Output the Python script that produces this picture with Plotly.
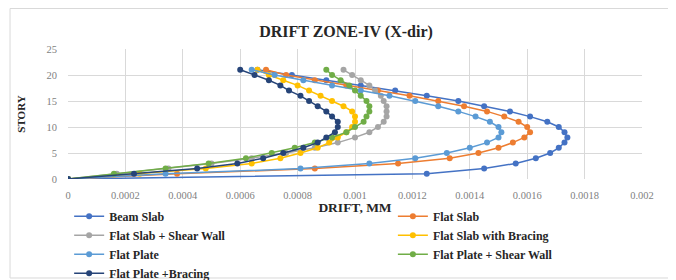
import plotly.graph_objects as go

stories = list(range(22))

beam_slab = [0, 0.00125, 0.00145, 0.00156, 0.00163, 0.00168, 0.00171, 0.00173, 0.00174, 0.00173,
             0.00171, 0.00167, 0.00161, 0.00154, 0.00145, 0.00136, 0.00125, 0.00114, 0.00102,
             0.00090, 0.00078, 0.00066]
flat_slab = [0, 0.00038, 0.00086, 0.00115, 0.00133, 0.00143, 0.00150, 0.00155, 0.00159, 0.00161,
             0.00160, 0.00157, 0.00152, 0.00146, 0.00138, 0.00129, 0.00119, 0.00108, 0.00097,
             0.00086, 0.00076, 0.00069]
flat_slab_sw = [0, 0.00017, 0.00035, 0.00050, 0.00064, 0.00076, 0.00086, 0.00094, 0.00100, 0.00105,
                0.00108, 0.00110, 0.00111, 0.00111, 0.00111, 0.00110, 0.00109, 0.00107, 0.00105,
                0.00102, 0.00099, 0.00096]
flat_slab_br = [0, 0.00025, 0.00048, 0.00064, 0.00074, 0.00081, 0.00087, 0.00091, 0.00094, 0.00097,
                0.00099, 0.00100, 0.00100, 0.00099, 0.00096, 0.00092, 0.00088, 0.00084, 0.00080,
                0.00075, 0.00070, 0.00066]
flat_plate = [0, 0.00034, 0.00081, 0.00105, 0.00121, 0.00132, 0.00140, 0.00146, 0.00150, 0.00151,
              0.00150, 0.00147, 0.00142, 0.00136, 0.00129, 0.00121, 0.00112, 0.00102, 0.00092,
              0.00082, 0.00072, 0.00064]
flat_plate_sw = [0, 0.00016, 0.00034, 0.00049, 0.00062, 0.00071, 0.00079, 0.00086, 0.00092, 0.00097,
                 0.00100, 0.00103, 0.00104, 0.00105, 0.00105, 0.00104, 0.00102, 0.00100, 0.00098,
                 0.00095, 0.00092, 0.00090]
flat_plate_br = [0, 0.00023, 0.00045, 0.00059, 0.00068, 0.00075, 0.00082, 0.00087, 0.00090, 0.00093,
                 0.00094, 0.00094, 0.00092, 0.00090, 0.00087, 0.00084, 0.00081, 0.00077, 0.00074,
                 0.00070, 0.00065, 0.00060]

series_names = ["Beam Slab", "Flat Slab", "Flat Slab + Shear Wall", "Flat Slab with Bracing",
                "Flat Plate", "Flat Plate + Shear Wall", "Flat Plate +Bracing"]
series_values = [beam_slab, flat_slab, flat_slab_sw, flat_slab_br, flat_plate, flat_plate_sw, flat_plate_br]
colors = ["#4472C4", "#ED7D31", "#A5A5A5", "#FFC000", "#5B9BD5", "#70AD47", "#264478"]
legend_column = ["legend", "legend2", "legend", "legend2", "legend", "legend2", "legend"]

x_ticks = [0, 0.0002, 0.0004, 0.0006, 0.0008, 0.001, 0.0012, 0.0014, 0.0016, 0.0018, 0.002]
x_tick_labels = ["0", "0.0002", "0.0004", "0.0006", "0.0008", "0.001", "0.0012", "0.0014",
                 "0.0016", "0.0018", "0.002"]
y_ticks = [0, 5, 10, 15, 20, 25]

serif = "Liberation Serif, Times New Roman, serif"

fig = go.Figure()
for name, vals, col, lg in zip(series_names, series_values, colors, legend_column):
    fig.add_trace(go.Scatter(
        x=vals, y=stories, name=name, mode="lines+markers", legend=lg,
        line=dict(color=col, width=1.5),
        marker=dict(color=col, size=6, symbol="circle"),
    ))

legend_font = dict(family=serif, size=12, color="#262626", weight="bold")

fig.update_layout(
    width=676, height=280,
    margin=dict(l=60, r=42, t=41, b=109, autoexpand=False),
    paper_bgcolor="white", plot_bgcolor="white",
    title=dict(text="<b>DRIFT ZONE-IV (X-dir)</b>", x=0.5, xanchor="center", y=0.918, yanchor="middle",
               font=dict(family=serif, size=16, color="#262626")),
    xaxis=dict(range=[0, 0.002], tickvals=x_ticks, ticktext=x_tick_labels,
               showgrid=True, gridcolor="#D9D9D9", gridwidth=1, zeroline=False,
               showline=False, ticks="", ticklabelstandoff=8,
               tickfont=dict(family=serif, size=10.5, color="#7F7F7F"),
               title=dict(text="<b>DRIFT, MM</b>", standoff=3,
                          font=dict(family=serif, size=13.5, color="#262626"))),
    yaxis=dict(range=[0, 25], tickvals=y_ticks,
               showgrid=True, gridcolor="#D9D9D9", gridwidth=1, zeroline=False,
               showline=False, ticks="", ticklabelstandoff=10,
               tickfont=dict(family=serif, size=10.5, color="#7F7F7F"),
               title=dict(text="<b>STORY</b>", standoff=18,
                          font=dict(family=serif, size=11, color="#262626"))),
    legend=dict(orientation="v", x=0.002, xanchor="left", y=-0.175, yanchor="top",
                tracegroupgap=0, font=legend_font, bgcolor="rgba(0,0,0,0)"),
    legend2=dict(orientation="v", x=0.566, xanchor="left", y=-0.175, yanchor="top",
                 tracegroupgap=0, font=legend_font, bgcolor="rgba(0,0,0,0)"),
    showlegend=True,
)

fig.add_shape(type="rect", xref="paper", yref="paper",
              x0=-0.101, x1=1.0488, y0=-0.7615, y1=1.3115,
              line=dict(color="#D9D9D9", width=1), fillcolor="rgba(0,0,0,0)", layer="below")

fig.write_html("out.html")
